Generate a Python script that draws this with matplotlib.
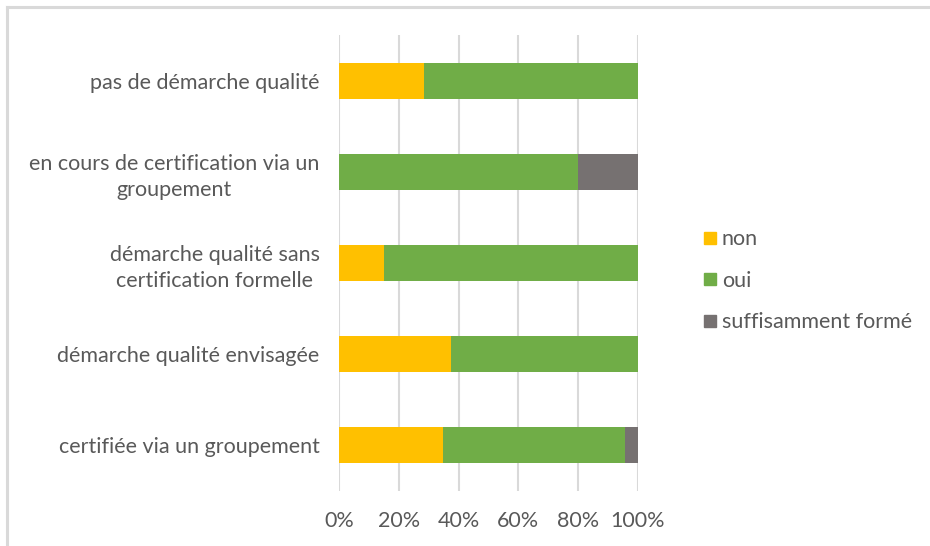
import matplotlib.pyplot as plt
from matplotlib.lines import Line2D
from matplotlib.ticker import PercentFormatter

plt.rcParams['font.family'] = ['Lato', 'DejaVu Sans']

# categories from bottom to top
categories = [
    "certifiée via un groupement",
    "démarche qualité envisagée",
    "démarche qualité sans\ncertification formelle",
    "en cours de certification via un\ngroupement",
    "pas de démarche qualité",
]
non = [34.8, 37.5, 15.0, 0.0, 28.6]
oui = [60.9, 62.5, 85.0, 80.0, 71.4]
suffisamment = [4.3, 0.0, 0.0, 20.0, 0.0]

series = ["non", "oui", "suffisamment formé"]
colors = ["#FFC000", "#70AD47", "#767171"]
text_color = "#595959"
fs = 15.5

fig = plt.figure(figsize=(9.3, 5.46), dpi=100)
ax = fig.add_axes([0.3645, 0.1016, 0.3215, 0.8334])

ypos = range(len(categories))
left = [0.0] * len(categories)
for vals, name, col in zip([non, oui, suffisamment], series, colors):
    ax.barh(ypos, vals, left=left, height=0.4, color=col, label=name, zorder=3)
    left = [a + b for a, b in zip(left, vals)]

ax.set_xlim(0, 100)
ax.set_ylim(-0.5, len(categories) - 0.5)
ax.set_xticks(range(0, 101, 20))
ax.xaxis.set_major_formatter(PercentFormatter(decimals=0))
ax.set_yticks(list(ypos))
ax.set_yticklabels(categories, multialignment="center", linespacing=1.4)
ax.grid(axis="x", color="#D9D9D9", linewidth=1.5, zorder=0)
for s in ax.spines.values():
    s.set_visible(False)
ax.tick_params(axis="both", length=0, labelsize=fs, colors=text_color)
ax.tick_params(axis="y", pad=14)
ax.tick_params(axis="x", pad=15)

handles = [Line2D([], [], marker="s", linestyle="none", markersize=8,
                  markerfacecolor=c, markeredgecolor=c) for c in colors]
leg = fig.legend(handles, series, loc="center left", bbox_to_anchor=(0.731, 0.486),
                 frameon=False, fontsize=fs, labelspacing=1.0,
                 handletextpad=0.05, handlelength=1.0)
for t in leg.get_texts():
    t.set_color(text_color)

# outer frame, top and left edges
fig.add_artist(Line2D([0.0075, 1.0], [0.987, 0.987], color="#D9D9D9", linewidth=2.2,
                      transform=fig.transFigure))
fig.add_artist(Line2D([0.0075, 0.0075], [0.0, 0.987], color="#D9D9D9", linewidth=2.2,
                      transform=fig.transFigure))

fig.savefig("out.png", dpi=100)
